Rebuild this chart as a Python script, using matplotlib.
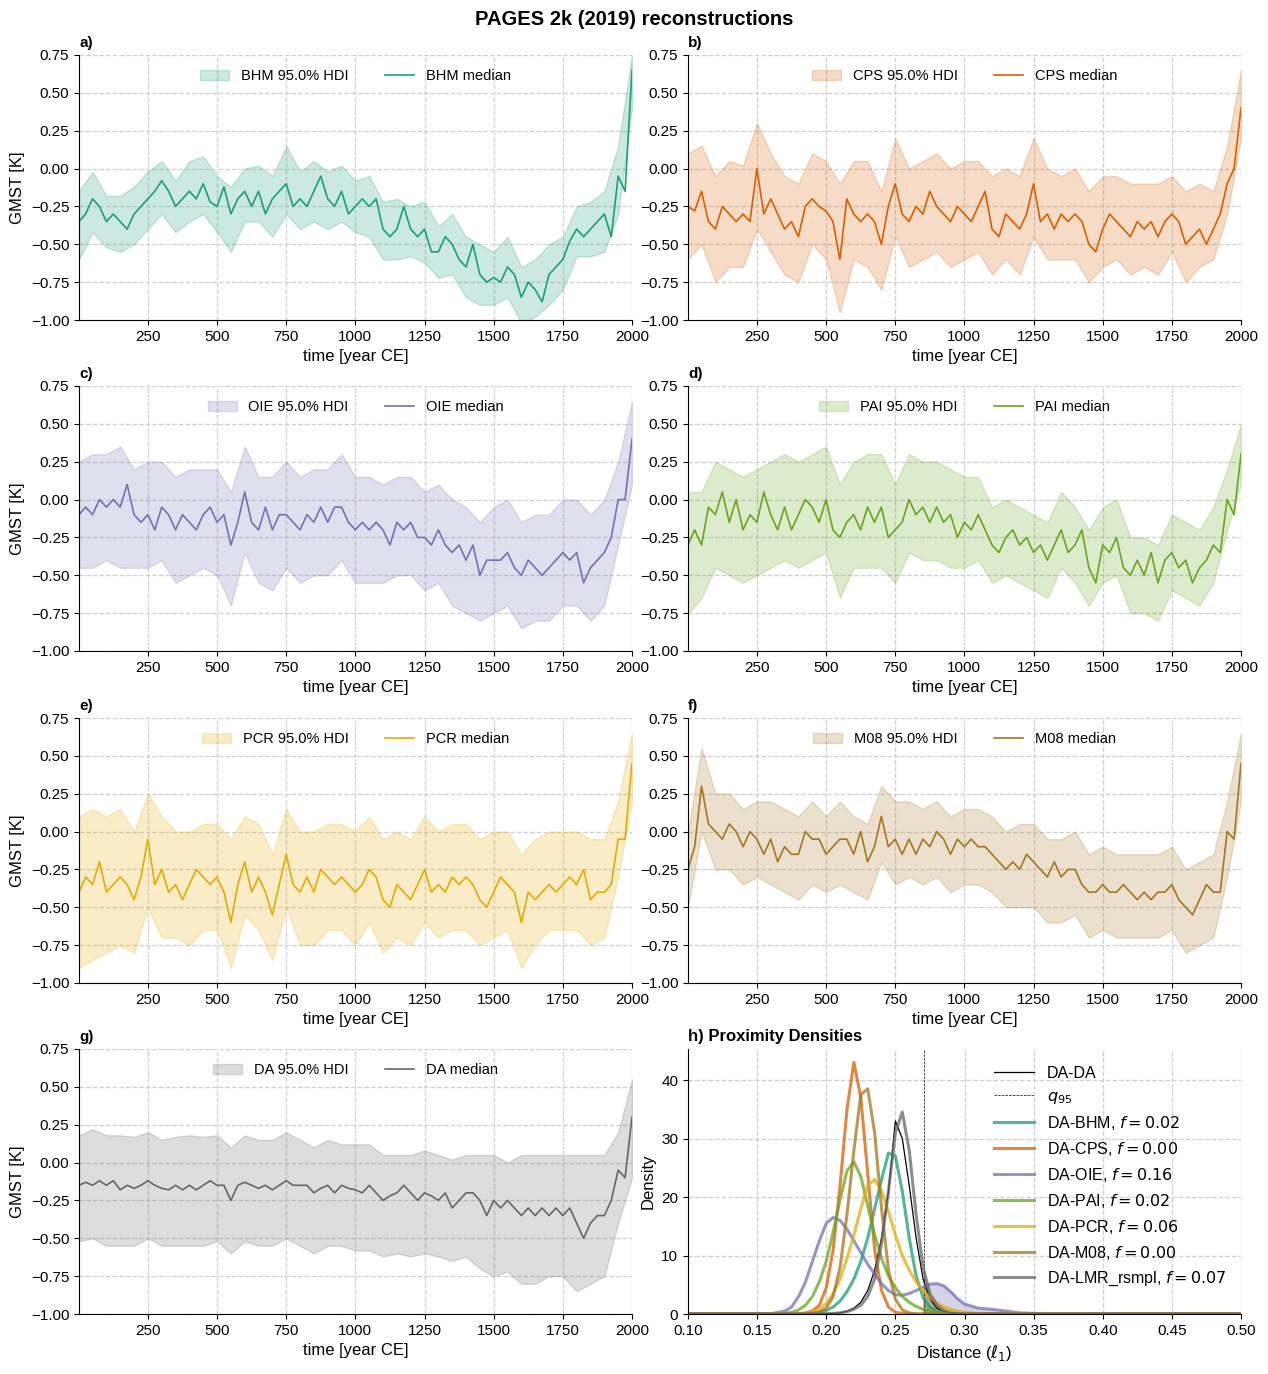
import matplotlib
matplotlib.use("Agg")
import matplotlib.pyplot as plt
import numpy as np

plt.rcParams['font.family'] = ['Liberation Sans', 'DejaVu Sans']
plt.rcParams['font.size'] = 11

# medians read every 25 years
years = [1] + list(range(25, 2001, 25))
# HDI bounds read every 50 years
hdi_years = [1] + list(range(50, 2001, 50))

bhm_med = [-0.35, -0.30, -0.20, -0.25, -0.35, -0.30, -0.35, -0.40, -0.30, -0.25,
           -0.20, -0.15, -0.08, -0.15, -0.25, -0.20, -0.15, -0.20, -0.10, -0.22,
           -0.25, -0.12, -0.30, -0.20, -0.15, -0.25, -0.15, -0.30, -0.20, -0.15,
           -0.10, -0.25, -0.20, -0.25, -0.15, -0.05, -0.20, -0.25, -0.15, -0.30,
           -0.25, -0.20, -0.25, -0.20, -0.40, -0.45, -0.40, -0.25, -0.40, -0.45,
           -0.40, -0.55, -0.55, -0.45, -0.50, -0.60, -0.65, -0.50, -0.70, -0.75,
           -0.72, -0.75, -0.65, -0.70, -0.85, -0.75, -0.80, -0.88, -0.70, -0.65,
           -0.60, -0.48, -0.40, -0.45, -0.40, -0.35, -0.30, -0.45, -0.05, -0.15, 0.65]
bhm_hi = [-0.15, -0.02, -0.18, -0.18, -0.12, -0.02, 0.05, -0.08, 0.05, 0.08, -0.05,
          -0.12, 0.00, 0.02, -0.05, 0.15, -0.02, 0.05, -0.02, 0.02, -0.08, -0.05,
          -0.22, -0.20, -0.25, -0.22, -0.38, -0.30, -0.45, -0.50, -0.55, -0.45,
          -0.65, -0.60, -0.50, -0.45, -0.25, -0.22, -0.15, 0.15, 0.75]
bhm_lo = [-0.60, -0.42, -0.52, -0.55, -0.50, -0.40, -0.30, -0.42, -0.35, -0.30, -0.42,
          -0.55, -0.35, -0.35, -0.45, -0.30, -0.40, -0.35, -0.40, -0.35, -0.42, -0.45,
          -0.60, -0.60, -0.58, -0.62, -0.72, -0.70, -0.85, -0.90, -0.90, -0.85,
          -1.02, -0.98, -0.90, -0.80, -0.58, -0.58, -0.55, -0.30, 0.40]

cps_med = [-0.25, -0.28, -0.15, -0.35, -0.40, -0.25, -0.30, -0.35, -0.30, -0.35,
           0.00, -0.30, -0.20, -0.30, -0.40, -0.35, -0.45, -0.25, -0.20, -0.25,
           -0.28, -0.35, -0.60, -0.20, -0.30, -0.35, -0.30, -0.35, -0.50, -0.25,
           -0.10, -0.30, -0.35, -0.25, -0.30, -0.15, -0.25, -0.30, -0.35, -0.25,
           -0.30, -0.35, -0.25, -0.15, -0.40, -0.45, -0.30, -0.35, -0.40, -0.30,
           -0.10, -0.35, -0.30, -0.40, -0.30, -0.35, -0.30, -0.35, -0.50, -0.55,
           -0.40, -0.30, -0.35, -0.40, -0.45, -0.35, -0.40, -0.35, -0.45, -0.35,
           -0.30, -0.35, -0.50, -0.45, -0.40, -0.50, -0.40, -0.30, -0.10, 0.00, 0.40]
cps_hi = [0.10, 0.15, -0.05, 0.05, 0.02, 0.30, 0.10, -0.05, -0.10, 0.10, 0.05, -0.10,
          0.05, 0.05, -0.15, 0.20, 0.00, 0.05, 0.10, 0.00, 0.05, 0.05, -0.05, 0.00,
          -0.05, 0.20, 0.00, -0.05, 0.00, -0.15, -0.05, -0.05, -0.10, -0.10, -0.10,
          -0.05, -0.15, -0.10, -0.15, 0.15, 0.65]
cps_lo = [-0.60, -0.50, -0.75, -0.65, -0.65, -0.40, -0.55, -0.70, -0.75, -0.50, -0.60,
          -0.95, -0.60, -0.65, -0.80, -0.45, -0.65, -0.60, -0.55, -0.65, -0.60, -0.55,
          -0.70, -0.60, -0.70, -0.45, -0.60, -0.60, -0.60, -0.75, -0.65, -0.60, -0.70,
          -0.65, -0.70, -0.55, -0.75, -0.65, -0.60, -0.30, 0.20]

oie_med = [-0.10, -0.05, -0.10, 0.00, -0.05, 0.00, -0.05, 0.10, -0.10, -0.15,
           -0.10, -0.20, -0.05, -0.10, -0.20, -0.10, -0.15, -0.20, -0.10, -0.05,
           -0.15, -0.10, -0.30, -0.15, 0.05, -0.15, -0.20, -0.05, -0.20, -0.10,
           -0.10, -0.15, -0.20, -0.10, -0.15, -0.05, -0.15, -0.05, -0.05, -0.15,
           -0.20, -0.15, -0.20, -0.15, -0.20, -0.30, -0.15, -0.20, -0.15, -0.25,
           -0.25, -0.30, -0.20, -0.30, -0.35, -0.30, -0.40, -0.30, -0.50, -0.40,
           -0.40, -0.40, -0.35, -0.45, -0.50, -0.40, -0.45, -0.50, -0.45, -0.40,
           -0.35, -0.40, -0.35, -0.55, -0.45, -0.40, -0.35, -0.25, 0.00, 0.00, 0.40]
oie_hi = [0.25, 0.30, 0.30, 0.35, 0.20, 0.25, 0.25, 0.15, 0.20, 0.20, 0.20, 0.05,
          0.35, 0.15, 0.15, 0.25, 0.15, 0.20, 0.20, 0.30, 0.15, 0.15, 0.10, 0.15,
          0.15, 0.05, 0.10, 0.00, -0.05, -0.15, -0.05, 0.00, -0.15, -0.10, -0.10,
          0.00, 0.00, -0.10, 0.00, 0.25, 0.65]
oie_lo = [-0.45, -0.45, -0.40, -0.45, -0.45, -0.45, -0.40, -0.55, -0.50, -0.45, -0.50,
          -0.70, -0.35, -0.55, -0.60, -0.45, -0.55, -0.50, -0.50, -0.40, -0.55, -0.55,
          -0.55, -0.50, -0.50, -0.60, -0.55, -0.70, -0.75, -0.80, -0.75, -0.70, -0.85,
          -0.80, -0.80, -0.70, -0.70, -0.80, -0.70, -0.30, 0.10]

pai_med = [-0.30, -0.20, -0.30, -0.05, -0.10, 0.05, -0.15, 0.00, -0.20, -0.10,
           -0.15, 0.05, -0.10, -0.20, -0.05, -0.20, -0.10, 0.00, -0.05, -0.15,
           0.00, -0.20, -0.25, -0.15, -0.10, -0.20, -0.05, -0.15, -0.05, -0.25,
           -0.20, -0.15, 0.00, -0.10, -0.05, -0.15, -0.05, -0.15, -0.10, -0.25,
           -0.15, -0.20, -0.10, -0.20, -0.30, -0.35, -0.25, -0.20, -0.30, -0.25,
           -0.35, -0.30, -0.40, -0.30, -0.20, -0.35, -0.30, -0.20, -0.45, -0.55,
           -0.30, -0.35, -0.25, -0.45, -0.50, -0.40, -0.50, -0.35, -0.55, -0.40,
           -0.35, -0.45, -0.40, -0.55, -0.45, -0.40, -0.30, -0.35, 0.00, -0.10, 0.30]
pai_hi = [0.05, 0.05, 0.25, 0.20, 0.15, 0.20, 0.25, 0.30, 0.25, 0.30, 0.35, 0.10,
          0.25, 0.30, 0.30, 0.10, 0.30, 0.25, 0.25, 0.20, 0.15, 0.15, -0.05, 0.00,
          -0.05, -0.10, -0.15, 0.05, -0.05, -0.20, -0.05, 0.00, -0.25, -0.25, -0.30,
          -0.10, -0.15, -0.20, -0.05, 0.20, 0.50]
pai_lo = [-0.75, -0.65, -0.45, -0.50, -0.55, -0.50, -0.45, -0.40, -0.45, -0.40, -0.35,
          -0.65, -0.45, -0.45, -0.45, -0.55, -0.35, -0.40, -0.40, -0.45, -0.45, -0.40,
          -0.55, -0.50, -0.55, -0.60, -0.65, -0.45, -0.55, -0.70, -0.55, -0.50, -0.75,
          -0.75, -0.80, -0.60, -0.65, -0.70, -0.55, -0.20, 0.10]

pcr_med = [-0.40, -0.30, -0.35, -0.20, -0.40, -0.35, -0.30, -0.35, -0.45, -0.30,
           -0.05, -0.35, -0.25, -0.40, -0.35, -0.45, -0.35, -0.25, -0.30, -0.35,
           -0.30, -0.40, -0.60, -0.35, -0.20, -0.40, -0.30, -0.40, -0.55, -0.35,
           -0.15, -0.35, -0.40, -0.30, -0.40, -0.25, -0.30, -0.35, -0.30, -0.35,
           -0.40, -0.35, -0.25, -0.30, -0.45, -0.50, -0.35, -0.40, -0.45, -0.35,
           -0.25, -0.40, -0.35, -0.40, -0.30, -0.35, -0.30, -0.35, -0.45, -0.50,
           -0.40, -0.30, -0.35, -0.40, -0.60, -0.40, -0.45, -0.40, -0.35, -0.40,
           -0.35, -0.30, -0.35, -0.25, -0.45, -0.40, -0.40, -0.35, -0.05, -0.05, 0.45]
pcr_hi = [0.10, 0.15, 0.10, 0.15, 0.00, 0.25, 0.10, 0.00, 0.00, 0.05, 0.05, -0.05,
          0.10, 0.05, -0.15, 0.15, 0.00, 0.00, 0.05, 0.05, 0.00, 0.10, -0.05, 0.00,
          -0.05, 0.10, 0.00, 0.05, 0.05, -0.05, 0.00, 0.00, -0.15, -0.05, 0.00, 0.00,
          0.00, -0.05, -0.05, 0.20, 0.65]
pcr_lo = [-0.90, -0.85, -0.80, -0.75, -0.80, -0.50, -0.70, -0.70, -0.75, -0.65, -0.65,
          -0.90, -0.55, -0.65, -0.85, -0.50, -0.75, -0.75, -0.65, -0.65, -0.75, -0.60,
          -0.80, -0.70, -0.75, -0.60, -0.70, -0.65, -0.65, -0.75, -0.70, -0.65, -0.90,
          -0.75, -0.65, -0.65, -0.65, -0.75, -0.70, -0.30, 0.20]

m08_med = [-0.25, -0.10, 0.30, 0.05, 0.00, -0.05, 0.05, 0.00, -0.10, 0.00,
           -0.05, -0.15, -0.05, -0.20, -0.10, -0.15, -0.15, 0.00, -0.05, -0.05,
           -0.15, -0.10, -0.05, -0.05, -0.15, 0.00, -0.20, -0.10, 0.10, -0.10,
           -0.05, -0.15, -0.05, -0.15, -0.05, -0.10, 0.00, -0.05, -0.15, -0.05,
           -0.10, -0.05, -0.10, -0.10, -0.15, -0.20, -0.25, -0.20, -0.25, -0.15,
           -0.20, -0.25, -0.30, -0.20, -0.30, -0.25, -0.25, -0.35, -0.40, -0.40,
           -0.35, -0.40, -0.40, -0.35, -0.40, -0.45, -0.40, -0.45, -0.40, -0.40,
           -0.35, -0.45, -0.50, -0.55, -0.45, -0.35, -0.40, -0.40, 0.00, -0.05, 0.45]
m08_hi = [0.00, 0.55, 0.25, 0.25, 0.15, 0.20, 0.20, 0.15, 0.10, 0.20, 0.10, 0.20,
          0.10, 0.05, 0.30, 0.20, 0.20, 0.15, 0.20, 0.10, 0.15, 0.15, 0.10, 0.00,
          0.05, 0.05, -0.05, -0.05, 0.00, -0.15, -0.10, -0.15, -0.15, -0.15, -0.15,
          -0.10, -0.25, -0.20, -0.15, 0.20, 0.65]
m08_lo = [-0.50, 0.00, -0.25, -0.25, -0.35, -0.30, -0.35, -0.40, -0.45, -0.35, -0.40,
          -0.35, -0.40, -0.45, -0.20, -0.35, -0.30, -0.35, -0.30, -0.40, -0.35, -0.35,
          -0.40, -0.50, -0.50, -0.50, -0.60, -0.60, -0.55, -0.70, -0.65, -0.70, -0.70,
          -0.70, -0.70, -0.65, -0.80, -0.75, -0.70, -0.30, 0.20]

da_med = [-0.15, -0.13, -0.15, -0.12, -0.15, -0.12, -0.18, -0.15, -0.17, -0.15,
          -0.12, -0.15, -0.17, -0.18, -0.15, -0.18, -0.15, -0.18, -0.15, -0.12,
          -0.15, -0.15, -0.25, -0.15, -0.13, -0.15, -0.17, -0.15, -0.18, -0.15,
          -0.12, -0.15, -0.15, -0.15, -0.20, -0.17, -0.15, -0.20, -0.15, -0.17,
          -0.18, -0.20, -0.15, -0.20, -0.25, -0.22, -0.20, -0.15, -0.20, -0.25,
          -0.20, -0.22, -0.25, -0.20, -0.30, -0.25, -0.20, -0.20, -0.25, -0.35,
          -0.25, -0.30, -0.25, -0.30, -0.35, -0.30, -0.35, -0.30, -0.35, -0.30,
          -0.35, -0.30, -0.40, -0.50, -0.40, -0.35, -0.35, -0.25, -0.05, -0.10, 0.30]
da_hi = [0.18, 0.22, 0.18, 0.18, 0.17, 0.20, 0.15, 0.17, 0.18, 0.17, 0.18, 0.10,
         0.18, 0.15, 0.15, 0.20, 0.15, 0.10, 0.15, 0.12, 0.12, 0.12, 0.05, 0.05,
         0.05, 0.08, 0.05, 0.02, 0.05, 0.05, 0.05, 0.00, 0.05, 0.05, 0.05, 0.05,
         0.05, 0.05, 0.05, 0.20, 0.55]
da_lo = [-0.52, -0.50, -0.55, -0.55, -0.55, -0.50, -0.55, -0.55, -0.55, -0.55, -0.52,
         -0.60, -0.52, -0.55, -0.55, -0.50, -0.55, -0.60, -0.55, -0.55, -0.58, -0.58,
         -0.62, -0.60, -0.62, -0.60, -0.62, -0.65, -0.62, -0.70, -0.75, -0.72, -0.80,
         -0.80, -0.75, -0.75, -0.85, -0.80, -0.75, -0.40, -0.10]

names = ['BHM', 'CPS', 'OIE', 'PAI', 'PCR', 'M08', 'DA']
colors = ['#1b9e77', '#d95f02', '#7570b3', '#66a61e', '#e6ab02', '#a6761d', '#666666']
medians = [bhm_med, cps_med, oie_med, pai_med, pcr_med, m08_med, da_med]
uppers = [bhm_hi, cps_hi, oie_hi, pai_hi, pcr_hi, m08_hi, da_hi]
lowers = [bhm_lo, cps_lo, oie_lo, pai_lo, pcr_lo, m08_lo, da_lo]
letters = ['a)', 'b)', 'c)', 'd)', 'e)', 'f)', 'g)']

# proximity densities (kde)
dist_x = [0.100, 0.150, 0.160, 0.170, 0.175, 0.180, 0.185, 0.190, 0.195, 0.200,
          0.205, 0.210, 0.215, 0.220, 0.225, 0.230, 0.235, 0.240, 0.245, 0.250,
          0.255, 0.260, 0.265, 0.270, 0.275, 0.280, 0.285, 0.290, 0.295, 0.300,
          0.310, 0.320, 0.330, 0.340, 0.350, 0.400, 0.500]
dens_da = [0, 0, 0, 0, 0, 0, 0, 0, 0, 0.05, 0.1, 0.2, 0.5, 1.0, 2.0, 4.0, 7.5, 13, 21,
           33, 30, 22, 13, 6.0, 2.6, 1.0, 0.4, 0.15, 0.05, 0, 0, 0, 0, 0, 0, 0, 0]
dens_bhm = [0, 0, 0, 0, 0, 0, 0, 0.1, 0.3, 0.6, 1.2, 2.2, 3.8, 6, 9, 13, 18, 23, 27.5,
            27, 21, 13, 6.5, 2.8, 1.2, 0.5, 0.2, 0.05, 0, 0, 0, 0, 0, 0, 0, 0, 0]
dens_cps = [0, 0, 0, 0, 0, 0, 0.2, 0.5, 1.5, 4.5, 11, 22, 35, 43, 37, 24, 11, 4, 1.2,
            0.3, 0.1, 0, 0, 0, 0, 0, 0, 0, 0, 0, 0, 0, 0, 0, 0, 0, 0]
dens_oie = [0, 0, 0.05, 0.5, 1.2, 3, 5.5, 9, 12.5, 15.5, 16.5, 16, 14.5, 12.5, 10.5, 8.5,
            6.8, 5.2, 4, 3.3, 3.2, 3.5, 4, 4.6, 5.1, 5.2, 4.8, 3.8, 2.6, 1.7, 1.0, 0.8,
            0.5, 0.2, 0.1, 0, 0]
dens_pai = [0, 0, 0, 0.1, 0.3, 0.7, 1.5, 3, 5.5, 9, 14, 19.5, 24.5, 26, 23.5, 18.5,
            13.5, 9.5, 6.5, 4.5, 3, 2, 1.3, 0.8, 0.5, 0.3, 0.15, 0.05, 0, 0, 0, 0, 0,
            0, 0, 0, 0]
dens_pcr = [0, 0, 0, 0, 0, 0, 0.1, 0.3, 0.8, 1.8, 3.5, 6, 9.5, 13.5, 18, 22, 23, 21,
            17.5, 13.5, 10, 7.5, 5.5, 4, 2.8, 1.9, 1.2, 0.8, 0.5, 0.3, 0.1, 0, 0, 0, 0,
            0, 0]
dens_m08 = [0, 0, 0, 0, 0, 0, 0, 0.1, 0.3, 1, 3, 8, 17, 28, 37.5, 38.5, 31, 18, 7.5,
            2.5, 0.7, 0.2, 0, 0, 0, 0, 0, 0, 0, 0, 0, 0, 0, 0, 0, 0, 0]
dens_lmr = [0, 0, 0, 0, 0, 0, 0, 0, 0, 0.05, 0.1, 0.2, 0.4, 0.8, 1.5, 3, 6, 12, 21, 31,
            34.5, 28, 17, 8, 3.5, 1.5, 0.6, 0.2, 0.05, 0, 0, 0, 0, 0, 0, 0, 0]
q95 = 0.271
dens_labels = ['DA-BHM, $f = 0.02$', 'DA-CPS, $f = 0.00$', 'DA-OIE, $f = 0.16$',
               'DA-PAI, $f = 0.02$', 'DA-PCR, $f = 0.06$', 'DA-M08, $f = 0.00$',
               'DA-LMR_rsmpl, $f = 0.07$']
dens_curves = [dens_bhm, dens_cps, dens_oie, dens_pai, dens_pcr, dens_m08, dens_lmr]
dens_colors = ['#1b9e77', '#d95f02', '#7570b3', '#66a61e', '#e6ab02', '#a6761d', '#666666']

fig = plt.figure(figsize=(12.68, 13.74), dpi=100)
fig.suptitle('PAGES 2k (2019) reconstructions', fontsize=14.5, fontweight='bold', y=0.993)

W, H = 1268, 1374
lefts = [79, 688]
tops = [55, 386, 718, 1049]
aw, ah = 553, 265


def make_ax(col, row):
    return fig.add_axes([lefts[col] / W, 1 - (tops[row] + ah) / H, aw / W, ah / H])


def style(ax):
    ax.grid(True, linestyle='--', color='#d0d0d0', linewidth=0.9)
    ax.set_axisbelow(True)
    ax.spines['top'].set_visible(False)
    ax.spines['right'].set_visible(False)


for i in range(7):
    ax = make_ax(i % 2, i // 2)
    style(ax)
    ax.fill_between(hdi_years, lowers[i], uppers[i], color=colors[i], alpha=0.22,
                    linewidth=1, label=names[i] + ' 95.0% HDI')
    ax.plot(years, medians[i], color=colors[i], linewidth=1.2, label=names[i] + ' median')
    ax.set_xlim(1, 2000)
    ax.set_ylim(-1.0, 0.75)
    ax.set_xticks(range(250, 2001, 250))
    ax.set_yticks([-1.0, -0.75, -0.5, -0.25, 0.0, 0.25, 0.5, 0.75])
    ax.set_xlabel('time [year CE]', fontsize=12)
    if i % 2 == 0:
        ax.set_ylabel('GMST [K]', fontsize=12)
    ax.set_title(letters[i], loc='left', fontweight='bold', fontsize=11, pad=6)
    ax.legend(loc='upper center', ncol=2, frameon=False, fontsize=10.5,
              columnspacing=2.5, bbox_to_anchor=(0.5, 0.995))

# h) proximity densities
ax = make_ax(1, 3)
style(ax)
ax.plot(dist_x, dens_da, color='black', linewidth=0.9, label='DA-DA')
ax.axvline(q95, color='black', linestyle='--', linewidth=0.5, label='$q_{95}$')
xs = np.array(dist_x)
for lab, dens, c in zip(dens_labels, dens_curves, dens_colors):
    ax.plot(dist_x, dens, color=c, alpha=0.75, linewidth=2.2, label=lab)
    ax.fill_between(xs, dens, where=xs >= 0.27, color=c, alpha=0.3, linewidth=0)
ax.set_xlim(0.1, 0.5)
ax.set_ylim(0, 45.3)
ax.set_xticks(np.arange(0.1, 0.501, 0.05))
ax.set_yticks([0, 10, 20, 30, 40])
ax.set_xlabel(r'Distance ($\ell_1$)', fontsize=12)
ax.set_ylabel('Density', fontsize=12)
ax.set_title('h) Proximity Densities', loc='left', fontweight='bold', fontsize=12, pad=6)
ax.legend(loc='upper right', frameon=False, fontsize=11.5, handlelength=2.5,
          bbox_to_anchor=(1.0, 0.99))

fig.savefig('out.png', dpi=100)
